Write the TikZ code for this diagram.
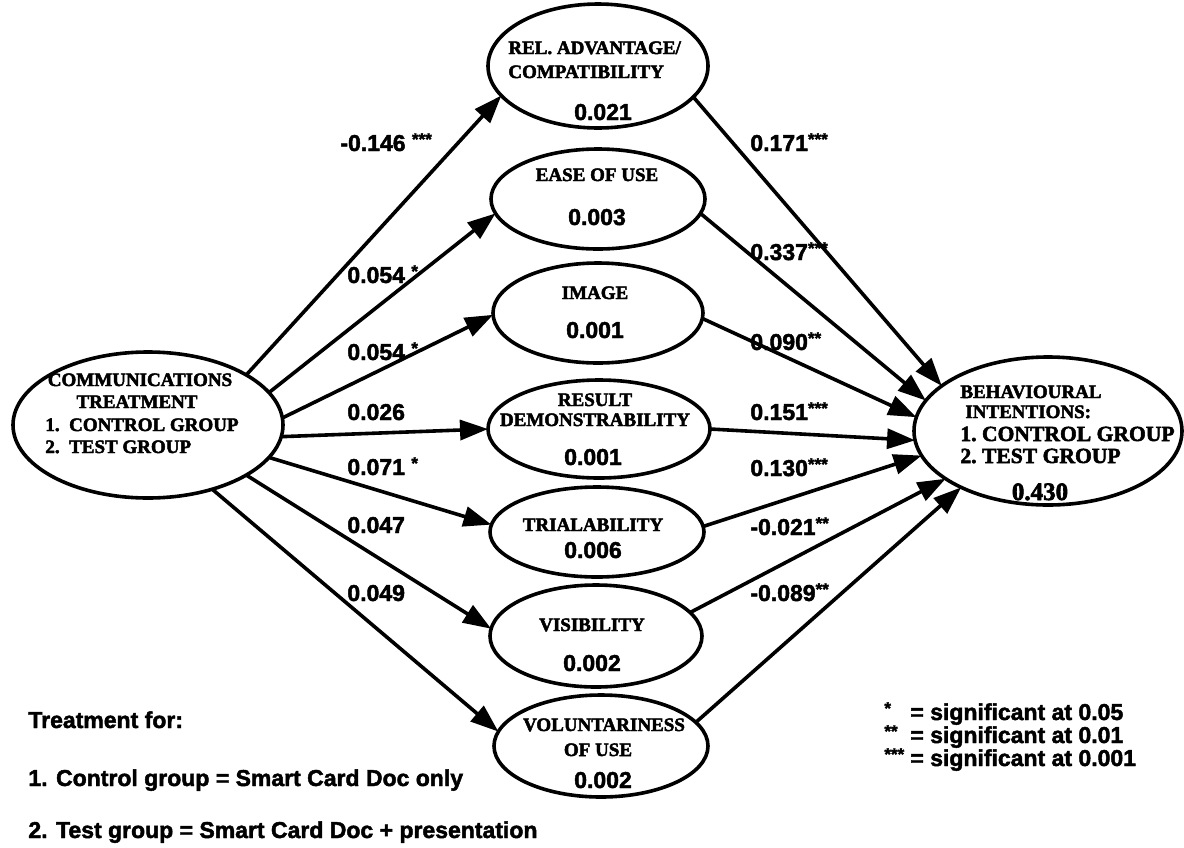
\documentclass[tikz,border=0pt]{standalone}
\usepackage{fontspec}
\setmainfont{Liberation Serif}[BoldFeatures={FakeBold=2.5}]
\newfontfamily\sansb{Liberation Sans}[BoldFeatures={FakeBold=2.0}]
\usetikzlibrary{shapes.geometric,arrows.meta}

% small raised significance stars
\newcommand{\stars}[1]{\raisebox{3pt}{\fontsize{8.5}{9}\selectfont #1}}

\begin{document}
\begin{tikzpicture}[x=0.5pt,y=-0.5pt,
  oval/.style={draw, ellipse, line width=1.8pt, inner sep=0pt, outer sep=0pt},
  lbl/.style={font=\bfseries\fontsize{9.5}{10}\selectfont, inner sep=0pt, anchor=base},
  lblw/.style={lbl, anchor=base west},
  lblbig/.style={font=\bfseries\fontsize{10.8}{11}\selectfont, inner sep=0pt, anchor=base west},
  val/.style={font=\sansb\bfseries\fontsize{11.5}{12}\selectfont, inner sep=0pt, anchor=base},
  coef/.style={font=\sansb\bfseries\fontsize{11.5}{12}\selectfont, inner sep=0pt, anchor=base west},
  arr/.style={line width=1.8pt, -{Triangle[length=14pt,width=10pt]}}
]
\useasboundingbox (0,0) rectangle (1184,847);

% ---- constructs ----
\node[oval, minimum width=135pt, minimum height=73pt] (L) at (148,425) {};
\node[oval, minimum width=134pt, minimum height=74pt] (R) at (1048,431) {};
\node[oval, minimum width=110pt, minimum height=62pt] (rel) at (598,66) {};
\node[oval, minimum width=107pt, minimum height=50pt] (ease) at (598,199) {};
\node[oval, minimum width=105pt, minimum height=50pt] (img) at (598,313) {};
\node[oval, minimum width=111pt, minimum height=49pt] (res) at (599,429) {};
\node[oval, minimum width=107pt, minimum height=45pt] (tri) at (597,532) {};
\node[oval, minimum width=106pt, minimum height=51pt] (vis) at (596,636) {};
\node[oval, minimum width=107pt, minimum height=51pt] (vol) at (601,746) {};

% ---- texts inside the ellipses ----
\node[lbl] (l1) at (140,386) {COMMUNICATIONS};
\node[lbl] (l2) at (137,408) {TREATMENT};
\node[lblw] (l3) at (45,431) {1.\ \ CONTROL GROUP};
\node[lblw] (l4) at (45,453) {2.\ \ TEST GROUP};

\node[lblw] (r1) at (960,398) {BEHAVIOURAL};
\node[lblw] (r2) at (965,418) {INTENTIONS:};
\node[lblbig] (r3) at (960,441) {1.\ CONTROL GROUP};
\node[lblbig] (r4) at (960,463) {2.\ TEST GROUP};
\node[font=\bfseries\fontsize{12.5}{13}\selectfont, inner sep=0pt, anchor=base] (r5) at (1040,500) {0.430};

\node[lblw] (t1a) at (508,54) {REL. ADVANTAGE/};
\node[lblw] (t1b) at (508,78) {COMPATIBILITY};
\node[val] (v1) at (603,120) {0.021};
\node[lbl] (t2) at (597,181) {EASE OF USE};
\node[val] (v2) at (597,225) {0.003};
\node[lbl] (t3) at (595,299) {IMAGE};
\node[val] (v3) at (595,338) {0.001};
\node[lbl] (t4a) at (595,406) {RESULT};
\node[lbl] (t4b) at (595,426) {DEMONSTRABILITY};
\node[val] (v4) at (593,465) {0.001};
\node[lbl] (t5) at (593,531) {TRIALABILITY};
\node[val] (v5) at (593,558) {0.006};
\node[lbl] (t6) at (592,631) {VISIBILITY};
\node[val] (v6) at (592,671) {0.002};
\node[lbl] (t7a) at (604,731) {VOLUNTARINESS};
\node[lbl] (t7b) at (598,756) {OF USE};
\node[val] (v7) at (603,788) {0.002};

% ---- paths from the treatment ----
\draw[arr] (L.27)  -- (rel.197);
\draw[arr] (L.15)  -- (ease.188);
\draw[arr] (L.3)   -- (img.181);
\draw[arr] (L.355) -- (res.180);
\draw[arr] (L.345) -- (tri.176);
\draw[arr] (L.333) -- (vis.176);
\draw[arr] (L.315) -- (vol.172);

% ---- paths to the intentions ----
\draw[arr] (rel.342)  -- (R.157);
\draw[arr] (ease.352) -- (R.166);
\draw[arr] (img.357)  -- (R.174);
\draw[arr] (res.0)    -- (R.184);
\draw[arr] (tri.3)    -- (R.191);
\draw[arr] (vis.14)   -- (R.205);
\draw[arr] (vol.14)   -- (R.213);

% ---- path coefficients ----
\node[coef] (c1) at (340,151) {-0.146 \stars{***}};
\node[coef] (c2) at (347,283) {0.054 \stars{*}};
\node[coef] (c3) at (347,360) {0.054 \stars{*}};
\node[coef] (c4) at (347,420) {0.026};
\node[coef] (c5) at (347,475) {0.071 \stars{*}};
\node[coef] (c6) at (347,533) {0.047};
\node[coef] (c7) at (347,601) {0.049};

\node[coef] (d1) at (750,151) {0.171\stars{***}};
\node[coef] (d2) at (750,260) {0.337\stars{***}};
\node[coef] (d3) at (750,350) {0.090\stars{**}};
\node[coef] (d4) at (750,420) {0.151\stars{***}};
\node[coef] (d5) at (750,476) {0.130\stars{***}};
\node[coef] (d6) at (750,535) {-0.021\stars{**}};
\node[coef] (d7) at (750,601) {-0.089\stars{**}};

% ---- notes ----
\node[coef] (n1) at (28,728) {Treatment for:};
\node[coef] (n2) at (28,786) {1. Control group = Smart Card Doc only};
\node[coef] (n3) at (28,838) {2. Test group = Smart Card Doc + presentation};

% ---- significance key ----
\node[coef] (k1s) at (884,720) {\stars{*}};
\node[coef] (k2s) at (884,743) {\stars{**}};
\node[coef] (k3s) at (884,766) {\stars{***}};
\node[coef] (k1) at (910,720) {= significant at 0.05};
\node[coef] (k2) at (910,743) {= significant at 0.01};
\node[coef] (k3) at (910,766) {= significant at 0.001};
\end{tikzpicture}
\end{document}
